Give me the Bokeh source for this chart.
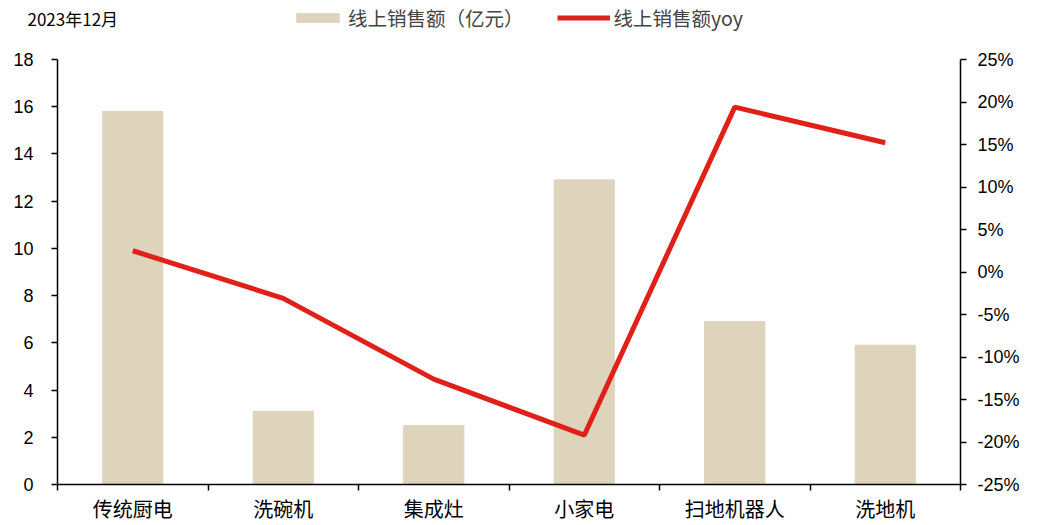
from bokeh.plotting import figure
from bokeh.layouts import column
from bokeh.models import (Range1d, LinearAxis, FixedTicker, Label,
                          NumeralTickFormatter, Legend, LegendItem, ColumnDataSource)
from bokeh.embed import file_html
from bokeh.resources import INLINE

categories = ["传统厨电", "洗碗机", "集成灶", "小家电", "扫地机器人", "洗地机"]
sales = [15.8, 3.1, 2.5, 12.9, 6.9, 5.9]
yoy = [0.025, -0.031, -0.126, -0.192, 0.194, 0.152]
left_ticks = [0, 2, 4, 6, 8, 10, 12, 14, 16, 18]
right_ticks = [-0.25, -0.20, -0.15, -0.10, -0.05, 0.0, 0.05, 0.10, 0.15, 0.20, 0.25]
date_label = "2023年12月"
bar_label = "线上销售额（亿元）"
line_label = "线上销售额yoy"

BAR_COLOR = "#DED4BC"
LINE_COLOR = "#E02119"
NUM_FONT = "Liberation Sans"
CJK_FONT = "Noto Sans CJK SC"

xs = [i + 0.5 for i in range(len(categories))]
src = ColumnDataSource(dict(x=xs, sales=sales, yoy=yoy))

# ---- header strip: date label + legend (its renderers lie outside its view) ----
HEAD_H = 36
head = figure(width=1023, height=HEAD_H, output_backend="svg", toolbar_location=None,
              x_axis_type=None, y_axis_type=None, min_border=0,
              x_range=Range1d(-2, -1), y_range=Range1d(-2, -1))
head.frame_align = False
head.outline_line_color = None
head.xgrid.visible = False
head.ygrid.visible = False
hb = head.vbar(x="x", top="sales", width=0.4, source=src, color=BAR_COLOR)
hl = head.line(x="x", y="yoy", source=src, line_color=LINE_COLOR, line_width=5)
legend = Legend(items=[LegendItem(label=bar_label, renderers=[hb]),
                       LegendItem(label=line_label, renderers=[hl])],
                orientation="horizontal", location=(291, 4),
                label_text_font=CJK_FONT, label_text_font_size="19.5px",
                glyph_width=53, glyph_height=11, spacing=33, label_standoff=4,
                border_line_color=None, background_fill_alpha=0, padding=0, margin=0)
head.add_layout(legend, "center")
head.add_layout(Label(x=27, y=HEAD_H - 18, x_units="screen", y_units="screen", text=date_label,
                      text_font=CJK_FONT, text_font_size="17px", text_baseline="middle",
                      text_color="black"))

# ---- main chart ----
p = figure(width=1023, height=525 - HEAD_H, output_backend="svg", toolbar_location=None,
           x_range=Range1d(0, len(categories)), y_range=Range1d(0, 18),
           min_border_left=57, min_border_right=63, min_border_top=59 - HEAD_H, min_border_bottom=41)
p.frame_align = False
p.outline_line_color = None
p.xgrid.visible = False
p.ygrid.visible = False
p.extra_y_ranges = {"yoy": Range1d(-0.25, 0.25)}

p.vbar(x="x", top="sales", width=0.4, source=src, color=BAR_COLOR)
p.line(x="x", y="yoy", source=src, y_range_name="yoy", line_color=LINE_COLOR, line_width=5)

# x axis: labels at centers, ticks at boundaries
xa = p.xaxis[0]
xa.ticker = FixedTicker(ticks=xs, minor_ticks=list(range(len(categories) + 1)))
xa.major_label_overrides = {x: c for x, c in zip(xs, categories)}
xa.major_tick_in = 0
xa.major_tick_out = 0
xa.minor_tick_in = 0
xa.minor_tick_out = 6
xa.minor_tick_line_color = "black"
xa.axis_line_color = "black"
xa.axis_line_width = 1.5
xa.minor_tick_line_width = 1.5
xa.major_label_text_font = CJK_FONT
xa.major_label_text_font_size = "20px"
xa.major_label_text_color = "black"
xa.major_label_standoff = 3

ya = p.yaxis[0]
ya.ticker = FixedTicker(ticks=left_ticks)
ya.major_tick_in = 0
ya.major_tick_out = 6
ya.minor_tick_line_color = None
ya.axis_line_color = "black"
ya.axis_line_width = 1.5
ya.major_tick_line_width = 1.5
ya.major_label_text_font = NUM_FONT
ya.major_label_text_font_size = "18px"
ya.major_label_text_color = "black"
ya.major_label_standoff = 18

ra = LinearAxis(y_range_name="yoy", ticker=FixedTicker(ticks=right_ticks),
                formatter=NumeralTickFormatter(format="0%"))
ra.major_tick_in = 0
ra.major_tick_out = 6
ra.minor_tick_line_color = None
ra.axis_line_color = "black"
ra.axis_line_width = 1.5
ra.major_tick_line_width = 1.5
ra.major_label_text_font = NUM_FONT
ra.major_label_text_font_size = "18px"
ra.major_label_text_color = "black"
ra.major_label_standoff = 11
p.add_layout(ra, "right")

layout = column(head, p, spacing=0)
open("out.html", "w").write(file_html(layout, INLINE))
